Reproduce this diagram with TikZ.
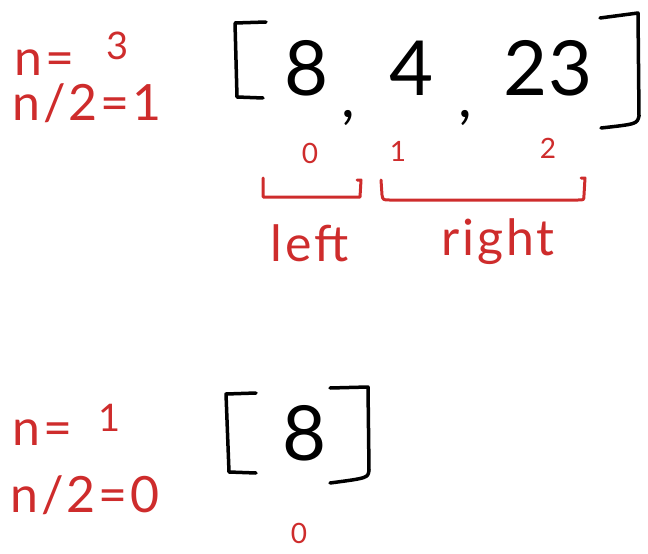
\documentclass[tikz,border=0pt]{standalone}
\usepackage{fontspec}
\setmainfont{Lato}
\usepackage{tikz}
\usetikzlibrary{positioning}
\definecolor{mgred}{RGB}{206,44,44}
\tikzset{
  mgarr/.style={text=black, inner sep=0pt, font=\fontsize{76}{80}\selectfont},
  mgcomma/.style={text=black, inner sep=0pt, font=\fontsize{60}{64}\selectfont},
  mgnote/.style={text=mgred, inner sep=0pt, font=\fontsize{50}{54}\selectfont\addfontfeatures{LetterSpace=6}},
  mgidx/.style={text=mgred, inner sep=0pt, font=\fontsize{28}{30}\selectfont},
  mgsup/.style={mgidx, font=\fontsize{38}{40}\selectfont},
  mgbrk/.style={draw=black, line width=3.5pt, line cap=round, line join=round},
  mgsplit/.style={draw=mgred, line width=3pt, line cap=round, line join=round},
}

\begin{document}
\begin{tikzpicture}[x=1pt, y=-1pt]
  \useasboundingbox (0,0) rectangle (648,554);

  % Sizes for the whole array.
  \node[mgnote, anchor=base west] (n3) at (14,75) {n=};
  \node[mgsup] (n3v) at (118,46) {3};
  \node[mgnote, anchor=base west] (half3) at (12,120) {n/2=1};

  % The array [8, 4, 23].
  \draw[mgbrk] (266,22) -- (235,23) -- (237,97) -- (263,98);
  \node[mgarr, anchor=base] (a0) at (307,95) {8};
  \node[mgcomma] (c0) at (348,118) {,};
  \node[mgarr, anchor=base] (a1) at (412,95) {4};
  \node[mgcomma] (c1) at (465,118) {,};
  \node[mgarr, anchor=base] (a2) at (548,95) {23};
  \draw[mgbrk] (600,18) -- (638,13) -- (639,116) .. controls (637,124) .. (601,128);

  % Indices.
  \node[mgidx] (i0) at (310,153) {0};
  \node[mgidx] (i1) at (398,151) {1};
  \node[mgidx] (i2) at (548,148) {2};

  % Split into halves.
  \draw[mgsplit] (263,178) -- (263,197) -- (360,197) -- (361,180) -- (357,180);
  \draw[mgsplit] (381,180) -- (382,195) .. controls (383,200) .. (390,200)
    -- (578,200) .. controls (584,200) .. (584,195) -- (585,178) -- (581,178);
  \node[mgnote, anchor=base] (lft) at (310,261) {left};
  \node[mgnote, anchor=base] (rgt) at (498,255) {right};

  % Base case.
  \node[mgnote, anchor=base west] (n1) at (12,445) {n=};
  \node[mgsup] (n1v) at (110,418) {1};
  \node[mgnote, anchor=base west] (half1) at (10,512) {n/2=0};

  \draw[mgbrk] (256,393) -- (226,394) -- (229,472) -- (256,473);
  \node[mgarr, anchor=base] (b0) at (305,460) {8};
  \draw[mgbrk] (330,388) -- (368,387) -- (369,470) .. controls (368,478) .. (330,483);
  \node[mgidx] (j0) at (299,533) {0};
\end{tikzpicture}
\end{document}
